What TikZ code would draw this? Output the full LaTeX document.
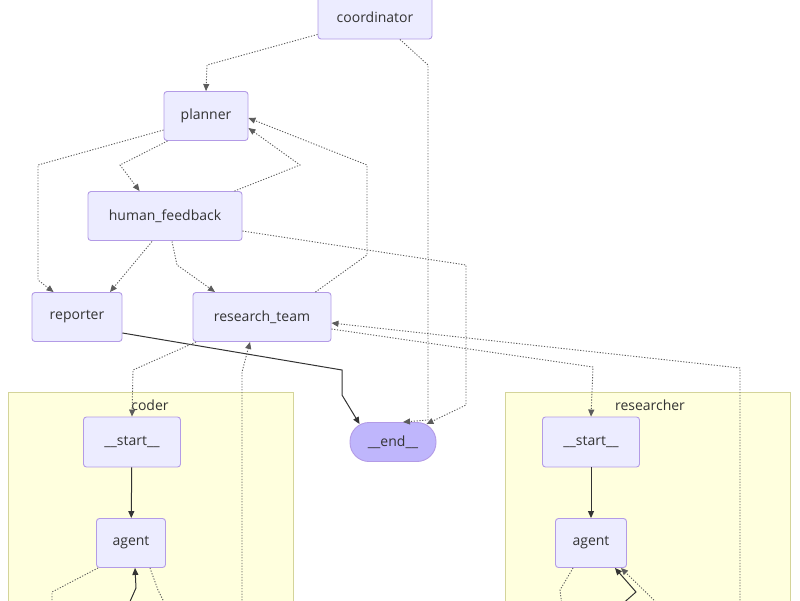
\documentclass[tikz,border=0pt]{standalone}
\usepackage{fontspec}
\setmainfont{Open Sans}
\usetikzlibrary{arrows.meta,calc}
\definecolor{nodefill}{HTML}{ECECFF}
\definecolor{nodeline}{HTML}{9370DB}
\definecolor{endfill}{HTML}{BFB6FC}
\definecolor{clusterfill}{HTML}{FFFFDE}
\definecolor{clusterline}{HTML}{D4D49A}
\definecolor{edge}{HTML}{333333}
\tikzset{
  box/.style={draw=nodeline!70, fill=nodefill, rounded corners=3pt, line width=0.9pt, font=\fontsize{14}{16}\selectfont, text=black!80, inner sep=0pt},
  cluster/.style={draw=clusterline, fill=clusterfill, line width=0.8pt},
  dot/.style={draw=edge!80, dash pattern=on 1.2pt off 1.6pt, line width=0.9pt, -{Triangle[length=7pt,width=6pt]}},
  dotn/.style={draw=edge!80, dash pattern=on 1.2pt off 1.6pt, line width=0.9pt},
  sol/.style={draw=edge, line width=1pt, -{Triangle[length=7pt,width=6pt]}},
  lbl/.style={font=\fontsize{14}{16}\selectfont, text=black!80}
}
\begin{document}
\begin{tikzpicture}[x=1pt,y=-1pt]
\useasboundingbox (0,0) rectangle (800,600);
% clusters
\path[cluster] (8,392) rectangle (293,606);
\path[cluster] (505,392) rectangle (790,606);
\node[lbl] (coderlbl) at (150,405) {coder};
\node[lbl] (reslbl) at (650,405) {researcher};
% nodes
\node[box, minimum width=114pt, minimum height=44pt] (coord) at (375,17) {coordinator};
\node[box, minimum width=84pt, minimum height=49pt] (planner) at (206,116) {planner};
\node[box, minimum width=154pt, minimum height=49pt] (hf) at (165,216) {human\_feedback};
\node[box, minimum width=90pt, minimum height=49pt] (reporter) at (77,317) {reporter};
\node[box, minimum width=138pt, minimum height=49pt] (rt) at (262,317) {research\_team};
\node[box, fill=endfill, rounded corners=19pt, minimum width=86pt, minimum height=39pt] (end) at (393,442) {\_\_end\_\_};
\node[box, minimum width=97pt, minimum height=50pt] (cs) at (132,442) {\_\_start\_\_};
\node[box, minimum width=69pt, minimum height=49pt] (ca) at (131,543) {agent};
\node[box, minimum width=97pt, minimum height=50pt] (rs) at (591,442) {\_\_start\_\_};
\node[box, minimum width=71pt, minimum height=49pt] (ra) at (591,543) {agent};
% free ends
\coordinate (c1) at (52,606);
\coordinate (c2) at (128,606);
\coordinate (c3) at (166,606);
\coordinate (c4) at (242,606);
\coordinate (r1) at (562,606);
\coordinate (r2) at (620,606);
\coordinate (r3) at (660,606);
\coordinate (r4) at (740,606);
% edges
\draw[dot] ($(coord.south west)+(0,-5)$) -- (207,65) -- (planner.north);
\draw[dot] ($(coord.south)+(25,0)$) -- (428,65) -- (428,420) -- ($(end.north)+(10,0)$);
\draw[dot] ($(planner.west)+(0,14)$) -- (38,165) -- (38,280) -- ($(reporter.north west)+(22,0)$);
\draw[dot] ($(planner.south west)+(4,0)$) -- (120,165) -- ($(hf.north west)+(52,0)$);
\draw[dot] ($(hf.north east)+(-8,0)$) -- (300,165) -- ($(planner.east)+(0,12)$);
\draw[dot] ($(rt.north east)+(-16,0)$) -- (367,255) -- (367,165) -- ($(planner.east)+(0,2)$);
\draw[dot] (152,241.5) -- (110,292);
\draw[dot] (172,241.5) -- (177,265) -- (215,292);
\draw[dot] ($(hf.east)+(0,15)$) -- (466,265) -- (466,405) -- ($(end.north east)+(-10,2)$);
\draw[sol] ($(reporter.east)+(0,16)$) -- (342,370) -- (342,395) -- ($(end.north west)+(10,2)$);
\draw[dot] (196,342) -- (133,370) -- (cs.north);
\draw[dot] (c4) -- (242,372) -- ($(rt.south)+(-12,0)$);
\draw[dot] ($(rt.east)+(0,12)$) -- (593,367) -- (rs.north);
\draw[dot] (r4) -- (740,368) -- ($(rt.east)+(0,6)$);
\draw[sol] (cs) -- (ca);
\draw[sol] (rs) -- (ra);
% coder loop
\draw[dotn] ($(ca.south west)+(2,0)$) -- (52,592) -- (c1);
\draw[sol] (c2) -- (136,588) -- ($(ca.south)+(4,0)$);
\draw[dotn] ($(ca.south east)+(-16,0)$) -- (158,590) -- (c3);
% researcher loop
\draw[dotn] ($(ra.south west)+(18,0)$) -- (560,590) -- (r1);
\draw[sol] (r2) -- (636,592) -- ($(ra.south east)+(-12,0)$);
\draw[dot] (r3) -- ($(ra.south east)+(-6,0)$);
\end{tikzpicture}
\end{document}
